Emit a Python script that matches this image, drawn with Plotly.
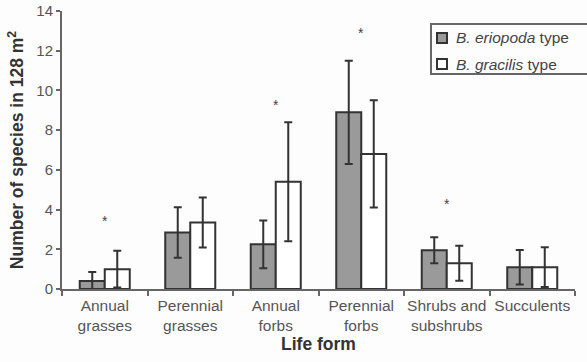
import plotly.graph_objects as go

# Life-form categories along the x axis
life_forms = ["Annual<br>grasses", "Perennial<br>grasses", "Annual<br>forbs",
              "Perennial<br>forbs", "Shrubs and<br>subshrubs", "Succulents"]

# Mean number of species per 128 m² and error (±)
eriopoda_mean = [0.4, 2.85, 2.25, 8.9, 1.95, 1.1]
eriopoda_err = [0.45, 1.27, 1.2, 2.6, 0.65, 0.87]
gracilis_mean = [1.0, 3.35, 5.4, 6.8, 1.3, 1.1]
gracilis_err = [0.93, 1.26, 3.0, 2.7, 0.88, 1.0]

# Significant differences, marked with an asterisk at the given height
sig_forms = ["Annual<br>grasses", "Annual<br>forbs", "Perennial<br>forbs", "Shrubs and<br>subshrubs"]
sig_heights = [3.4, 9.25, 12.9, 4.3]

y_ticks = [0, 2, 4, 6, 8, 10, 12, 14]

series_names = ["<i>B. eriopoda</i> type", "<i>B. gracilis</i> type"]
series_fills = ["#9a9a9a", "#ffffff"]

FONT = "Liberation Sans, Arial, sans-serif"
EDGE = "#333333"

W, H = 587, 362
L, R, T, B = 62, 12, 11, 73
PW, PH = W - L - R, H - T - B


def px_x(px):
    """Pixel column -> paper x."""
    return (px - L) / PW


def px_y(py):
    """Pixel row -> paper y."""
    return (H - B - py) / PH


fig = go.Figure()
for name, fill, mean, err in zip(series_names, series_fills,
                                 [eriopoda_mean, gracilis_mean],
                                 [eriopoda_err, gracilis_err]):
    fig.add_trace(go.Bar(
        x=life_forms, y=mean, name=name, showlegend=False,
        marker=dict(color=fill, line=dict(color=EDGE, width=2)),
        error_y=dict(type="data", array=err, color=EDGE, thickness=2, width=4),
    ))

for form, h in zip(sig_forms, sig_heights):
    fig.add_annotation(x=form, y=h, text="*", showarrow=False,
                       font=dict(family=FONT, size=14, color="#444444"))

# Key in the upper right: open box whose right side runs off the page edge
kx0, kx1, ky0, ky1 = px_x(431), px_x(600), px_y(74), px_y(24)
fig.add_shape(type="rect", xref="paper", yref="paper",
              x0=kx0, x1=kx1, y0=ky0, y1=ky1,
              line=dict(width=0), fillcolor="#fdfdfd", layer="above")
fig.add_shape(type="path", xref="paper", yref="paper",
              path=f"M {kx1} {ky1} L {kx0} {ky1} L {kx0} {ky0} L {kx1} {ky0}",
              line=dict(color="#666666", width=2), layer="above")
for i, (name, fill) in enumerate(zip(series_names, series_fills)):
    cy = 38 + 26 * i
    fig.add_shape(type="rect", xref="paper", yref="paper",
                  x0=px_x(437), x1=px_x(447), y0=px_y(cy + 5), y1=px_y(cy - 5),
                  line=dict(color=EDGE, width=2), fillcolor=fill, layer="above")
    fig.add_annotation(xref="paper", yref="paper", x=px_x(454), y=px_y(cy),
                       xanchor="left", yanchor="middle", text=name, showarrow=False,
                       font=dict(family=FONT, size=15.5, color="#444444"))

fig.update_layout(
    width=W, height=H,
    margin=dict(l=L, r=R, t=T, b=B, autoexpand=False),
    paper_bgcolor="#fdfdfd", plot_bgcolor="#fdfdfd",
    barmode="group", bargap=0.415, bargroupgap=0,
    font=dict(family=FONT, color="#555555"),
)

fig.update_xaxes(
    automargin=False, tickangle=0,
    showline=True, linecolor="#666666", linewidth=2,
    ticks="outside", tickson="boundaries", ticklen=5, tickcolor="#666666", tickwidth=2,
    tickfont=dict(family=FONT, size=15.5, color="#555555"),
    ticklabelstandoff=1,
    title=dict(text="<b>Life form</b>", font=dict(family=FONT, size=17.5, color="#333333"), standoff=4),
    showgrid=False,
)
fig.update_yaxes(
    automargin=False,
    range=[0, 14], tickvals=y_ticks,
    showline=True, linecolor="#666666", linewidth=2,
    ticks="outside", ticklen=4, tickcolor="#666666", tickwidth=2,
    tickfont=dict(family=FONT, size=15, color="#555555"),
    title=dict(text="<b>Number of species in 128 m<sup>2</sup></b>",
               font=dict(family=FONT, size=17.5, color="#333333"), standoff=8),
    showgrid=False, zeroline=False,
)

fig.write_html("out.html")
